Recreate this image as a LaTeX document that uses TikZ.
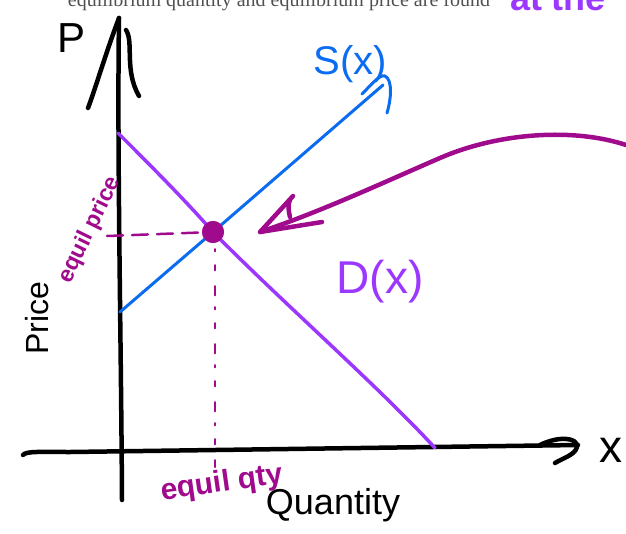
\documentclass[tikz,border=0pt]{standalone}
\usepackage{fontspec}
\setmainfont{Liberation Sans}
\newfontfamily\printfont{Liberation Serif}
\definecolor{supblue}{RGB}{10,108,240}
\definecolor{dempurple}{RGB}{155,55,255}
\definecolor{eqmag}{RGB}{160,10,140}
\definecolor{printgray}{RGB}{80,80,80}
\tikzset{
  axisline/.style={black, line width=4.5pt, line cap=round, line join=round},
  supline/.style={supblue, line width=3pt, line cap=round, line join=round},
  demline/.style={dempurple, line width=3.5pt, line cap=round, line join=round},
  magline/.style={eqmag, line width=4.5pt, line cap=round, line join=round},
  guideline/.style={eqmag, line width=2.5pt, line cap=round},
  hand/.style={inner sep=0pt, outer sep=0pt},
}
\begin{document}
\begin{tikzpicture}[x=1pt, y=-1pt]
\useasboundingbox (0,0) rectangle (626,533);
% clipped printed text at the top
\node[hand, anchor=base east, printgray, font=\printfont\fontsize{20}{20}\selectfont] (toptext) at (490,6) {equilibrium quantity and equilibrium price are found};
\node[hand, anchor=base west, dempurple, font=\fontsize{36}{36}\selectfont\bfseries] (attheText) at (510,10) {at the};
% named points
\coordinate (yBot) at (122,500);
\coordinate (yTop) at (119,18);
\coordinate (yLeftBarb) at (88,108);
\coordinate (yRightA) at (126,30);
\coordinate (yRightB) at (139,96);
\coordinate (xLeft) at (23,455);
\coordinate (xRight) at (578,445);
\coordinate (sStart) at (120,312);
\coordinate (sEnd) at (383,85);
\coordinate (dStart) at (118,133);
\coordinate (dEnd) at (435,448);
\coordinate (hStart) at (107,236);
\coordinate (vEnd) at (215,467);
\coordinate (arrStart) at (626,145);
\coordinate (arrTip) at (260,232);
% equilibrium dot
\node[circle, fill=eqmag, minimum size=22pt, inner sep=0pt] (eq) at (213,232) {};
% y axis
\draw[axisline] (yBot) .. controls (121,330) and (117,150) .. (yTop);
\draw[axisline] (yTop) .. controls (105,55) and (95,90) .. (yLeftBarb);
\draw[axisline] (yRightA) .. controls (134,42) and (124,70) .. (yRightB);
% x axis
\draw[axisline] (xLeft) .. controls (26,451) and (40,452) .. (70,452) -- (xRight);
\draw[axisline] (540,445) .. controls (558,436) and (578,437) .. (577,447) .. controls (575,455) and (563,458) .. (555,463);
% dashed guides
\draw[guideline, dash pattern=on 16pt off 9pt] (hStart) -- (eq.center);
\draw[guideline, dash pattern=on 2pt off 14pt on 5pt off 16pt on 9pt off 12pt] (eq.south) ++(2,6) -- (vEnd);
% supply
\draw[supline] (sStart) -- (eq.center) -- (sEnd);
\draw[supline] (362,94) .. controls (372,84) and (380,74) .. (385,76) .. controls (393,80) and (391,100) .. (387,113);
% demand
\draw[demline] (dStart) .. controls (150,165) and (185,200) .. (eq.center) .. controls (280,300) and (380,388) .. (dEnd);
\fill[eqmag] (eq) circle (11pt);
% magenta arrow
\draw[magline] (arrStart) .. controls (575,128) and (500,132) .. (440,158) .. controls (380,184) and (320,212) .. (arrTip);
\draw[magline] (290,217) .. controls (287,205) and (289,199) .. (293,196) -- (arrTip) -- (322,222);
% labels
\node[hand, black, font=\fontsize{42}{42}\selectfont] (pLabel) at (72,38) {P};
\node[hand, black, font=\fontsize{46}{46}\selectfont] (xLabel) at (611,450) {x};
\node[hand, supblue, font=\fontsize{40}{40}\selectfont] (sLabel) at (350,64) {S(x)};
\node[hand, dempurple, font=\fontsize{46}{46}\selectfont] (dLabel) at (380,282) {D(x)};
\node[hand, black, rotate=90, font=\fontsize{32}{32}\selectfont] (priceLabel) at (37,318) {Price};
\node[hand, eqmag, rotate=64, font=\fontsize{23}{23}\selectfont\bfseries] (eqPrice) at (90,230) {equil price};
\node[hand, eqmag, rotate=8, font=\fontsize{30}{30}\selectfont\bfseries] (eqQty) at (222,484) {equil qty};
\node[hand, black, font=\fontsize{36}{36}\selectfont] (qLabel) at (333,505) {Quantity};
\end{tikzpicture}
\end{document}
